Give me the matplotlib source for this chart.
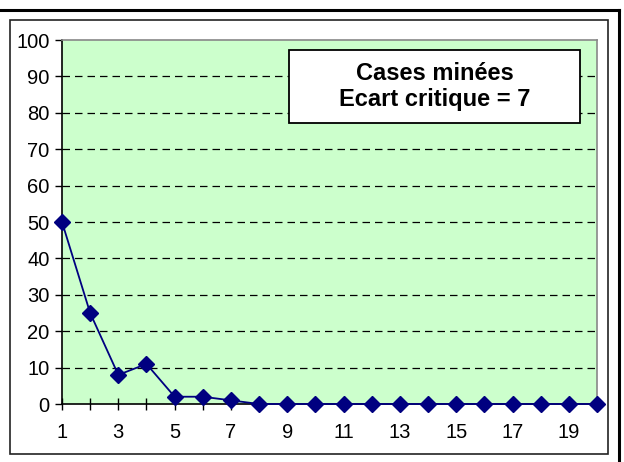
import matplotlib
matplotlib.use("Agg")
import matplotlib.pyplot as plt
from matplotlib.patches import Rectangle
from matplotlib.lines import Line2D

plt.rcParams['font.family'] = ['Liberation Sans', 'DejaVu Sans']

x_values = list(range(1, 21))
y_values = [50, 25, 8, 11, 2, 2, 1, 0, 0, 0, 0, 0, 0, 0, 0, 0, 0, 0, 0, 0]
y_ticks = [0, 10, 20, 30, 40, 50, 60, 70, 80, 90, 100]
x_tick_labels = [str(v) if v % 2 == 1 else "" for v in x_values]
title_lines = ["Cases minées", "Ecart critique = 7"]

W, H = 624, 462
fig = plt.figure(figsize=(W / 100, H / 100), dpi=100)
fig.patch.set_facecolor('white')

# outer thick border (top and right)
fig.add_artist(Line2D([0, 619 / W], [1 - 10 / H, 1 - 10 / H], transform=fig.transFigure, color='black', lw=2.2))
fig.add_artist(Line2D([619 / W, 619 / W], [1 - 10 / H, 0], transform=fig.transFigure, color='black', lw=2.2))
# inner thin border
fig.add_artist(Rectangle((10 / W, 1 - 454 / H), (608 - 10) / W, (454 - 20) / H,
                         transform=fig.transFigure, fill=False, edgecolor='#222222', lw=1.2))

ax = fig.add_axes([62 / W, 1 - 404 / H, (597 - 62) / W, (404 - 40) / H])
ax.set_facecolor('#CCFFCC')
ax.set_xlim(1, 20)
ax.set_ylim(0, 100)

ax.set_yticks(y_ticks)
ax.set_yticklabels([str(v) for v in y_ticks])
ax.set_xticks(x_values)
ax.set_xticklabels(x_tick_labels)

for v in y_ticks[1:-1]:
    ax.axhline(v, color='black', lw=0.9, ls=(0, (6, 4)), zorder=1)

ax.plot(x_values, y_values, color='#000080', lw=1.3, marker='D', markersize=8,
        markerfacecolor='#000080', markeredgecolor='#000080', zorder=3, clip_on=False)

for s in ['top', 'right']:
    ax.spines[s].set_color('#888888')
    ax.spines[s].set_linewidth(1.2)
for s in ['left', 'bottom']:
    ax.spines[s].set_color('black')
    ax.spines[s].set_linewidth(1.2)

ax.tick_params(axis='x', direction='inout', length=9, width=1, labelsize=14.5, pad=9)
ax.tick_params(axis='y', direction='out', length=5, width=1, labelsize=14.5, pad=4)

# text box
bx0, bx1 = (289 - 62) / 535, (580 - 62) / 535
by0, by1 = (404 - 123) / 364, (404 - 50) / 364
ax.add_patch(Rectangle((bx0, by0), bx1 - bx0, by1 - by0, transform=ax.transAxes,
                       facecolor='white', edgecolor='black', lw=1.3, zorder=5))
xc = (bx0 + bx1) / 2
ax.text(xc, (404 - 73) / 364, title_lines[0], transform=ax.transAxes, ha='center', va='center',
        fontsize=17, fontweight='bold', zorder=6)
ax.text(xc, (404 - 99) / 364, title_lines[1], transform=ax.transAxes, ha='center', va='center',
        fontsize=17, fontweight='bold', zorder=6)

fig.savefig('out.png', dpi=100, facecolor='white')
